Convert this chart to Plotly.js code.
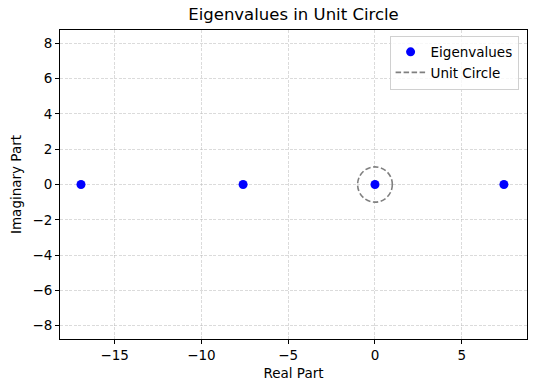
<!DOCTYPE html>
<html>
<head>
<meta charset="utf-8">
<script src="https://cdn.plot.ly/plotly-3.0.1.min.js"></script>
<style>
  html, body { margin: 0; padding: 0; background: #fff; }
  #chart { width: 534px; height: 391px; }
</style>
</head>
<body>
<div id="chart"></div>
<script>
// eigenvalues (real, imaginary)
const eigReal = [-16.94, -7.6, 0.0, 7.43];
const eigImag = [0, 0, 0, 0];

// unit circle
const circleCenter = [0, 0];
const circleRadius = 1;

const xTicks = [-15, -10, -5, 0, 5];
const yTicks = [-8, -6, -4, -2, 0, 2, 4, 6, 8];
const xRange = [-18.15, 8.76];
const yRange = [-8.75, 8.75];

const fontFam = 'DejaVu Sans, sans-serif';
const fmt = v => (v < 0 ? '\u2212' + Math.abs(v) : String(v));

var eigTrace = {
    x: eigReal,
    y: eigImag,
    mode: 'markers',
    type: 'scatter',
    name: 'Eigenvalues',
    marker: { color: '#0000ff', size: 9 },
    hoverinfo: 'skip'
};

// legend entry only, the circle itself is a layout shape
var circleLegend = {
    x: [null],
    y: [null],
    mode: 'lines',
    type: 'scatter',
    name: 'Unit Circle',
    line: { color: '#808080', width: 1.6, dash: '5.5px,2.5px' },
    hoverinfo: 'skip'
};

var layout = {
    width: 534,
    height: 391,
    paper_bgcolor: '#ffffff',
    plot_bgcolor: '#ffffff',
    margin: { l: 60, r: 7, t: 30, b: 52 },
    font: { family: fontFam, size: 14, color: '#000' },
    title: {
        text: 'Eigenvalues in Unit Circle',
        font: { family: fontFam, size: 16.5, color: '#000' },
        x: 0.5, xref: 'paper', xanchor: 'center',
        y: 1, yref: 'container', yanchor: 'top', pad: { t: 8 }
    },
    showlegend: true,
    legend: {
        x: 0.982, y: 0.982, xanchor: 'right', yanchor: 'top',
        bgcolor: 'rgba(255,255,255,0.8)',
        bordercolor: '#d0d0d0', borderwidth: 1,
        font: { family: fontFam, size: 13.5, color: '#000' },
        itemwidth: 30,
        tracegroupgap: 0
    },
    xaxis: {
        range: xRange,
        tickvals: xTicks,
        ticktext: xTicks.map(fmt),
        ticks: 'outside', ticklen: 4, tickwidth: 1, tickcolor: '#000',
        showline: true, linecolor: '#000', linewidth: 1, mirror: true,
        showgrid: true, gridcolor: '#b8b8b8', gridwidth: 0.5, griddash: '3px,1.5px',
        zeroline: false,
        tickfont: { family: fontFam, size: 13.5, color: '#000' },
        title: { text: 'Real Part', font: { family: fontFam, size: 13.5, color: '#000' }, standoff: 6 }
    },
    yaxis: {
        range: yRange,
        tickvals: yTicks,
        ticktext: yTicks.map(fmt),
        ticks: 'outside', ticklen: 4, tickwidth: 1, tickcolor: '#000',
        showline: true, linecolor: '#000', linewidth: 1, mirror: true,
        showgrid: true, gridcolor: '#b8b8b8', gridwidth: 0.5, griddash: '3px,1.5px',
        zeroline: false,
        tickfont: { family: fontFam, size: 13.5, color: '#000' },
        title: { text: 'Imaginary Part', font: { family: fontFam, size: 13.5, color: '#000' }, standoff: 7 }
    },
    shapes: [{
        type: 'circle',
        xref: 'x', yref: 'y',
        x0: circleCenter[0] - circleRadius, x1: circleCenter[0] + circleRadius,
        y0: circleCenter[1] - circleRadius, y1: circleCenter[1] + circleRadius,
        line: { color: '#808080', width: 1.6, dash: '5.5px,2.5px' },
        fillcolor: 'rgba(0,0,0,0)',
        layer: 'above'
    }]
};

Plotly.newPlot('chart', [eigTrace, circleLegend], layout, { displayModeBar: false, staticPlot: true });
</script>
</body>
</html>
